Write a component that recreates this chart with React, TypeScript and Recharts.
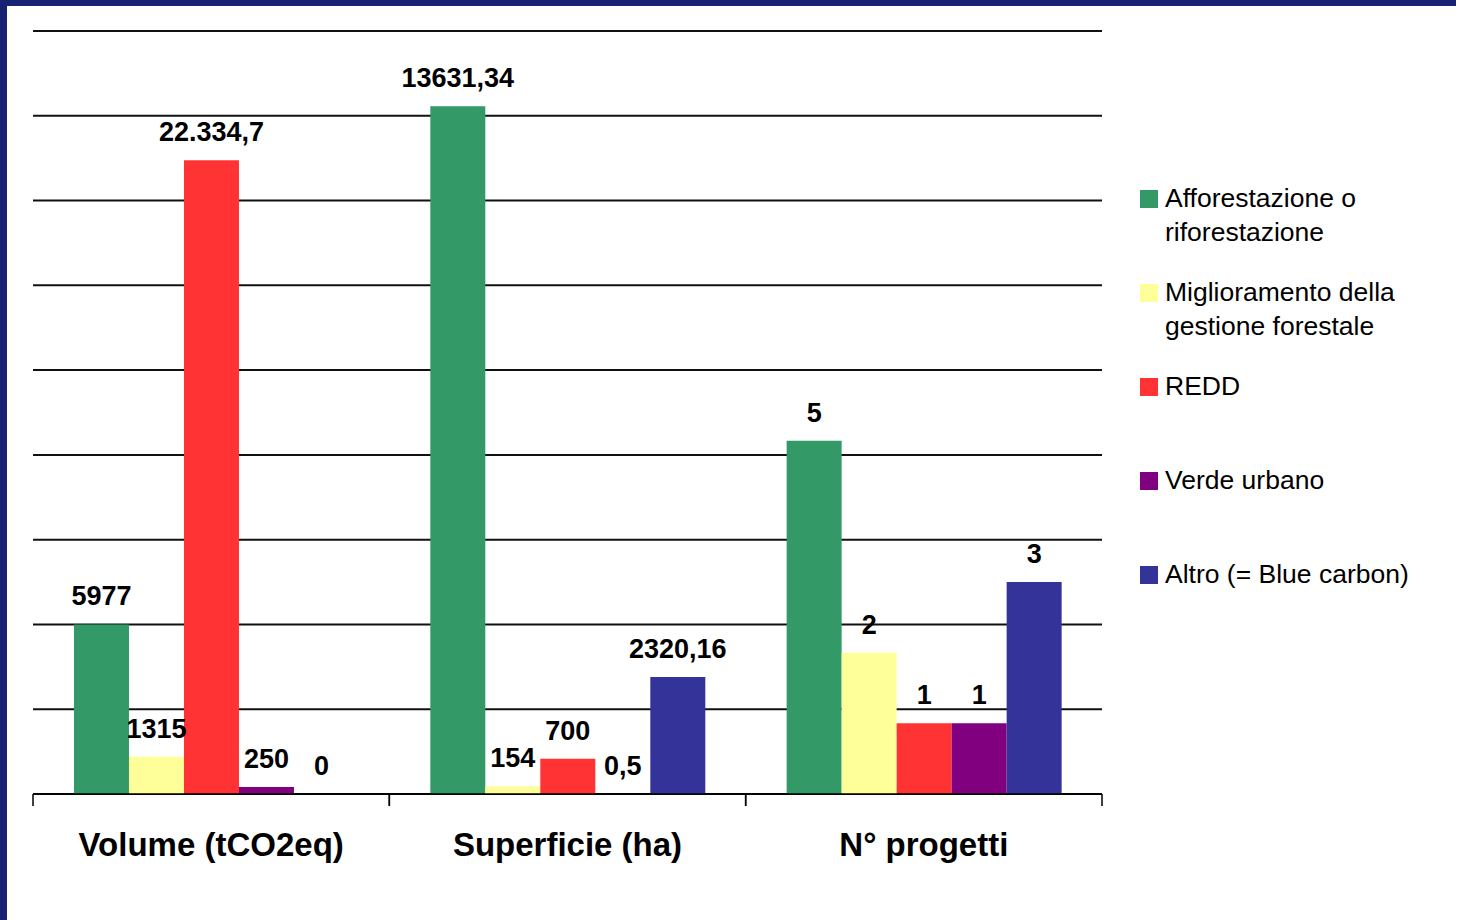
import React from "react";
import {
  BarChart,
  Bar,
  XAxis,
  YAxis,
  CartesianGrid,
  Legend,
  LabelList,
} from "recharts";

const categories = ["Volume (tCO2eq)", "Superficie (ha)", "N° progetti"];

const seriesNames = [
  "Afforestazione o riforestazione",
  "Miglioramento della gestione forestale",
  "REDD",
  "Verde urbano",
  "Altro (= Blue carbon)",
];
const seriesColors = ["#339966", "#FFFF99", "#FF3333", "#800080", "#333399"];

const afforestazione = [5977, 13631.34, 5];
const miglioramento = [1315, 154, 2];
const redd = [22334.7, 700, 1];
const verdeUrbano = [250, 0.5, 1];
const altro = [0, 2320.16, 3];

const afforestazioneLabels = ["5977", "13631,34", "5"];
const miglioramentoLabels = ["1315", "154", "2"];
const reddLabels = ["22.334,7", "700", "1"];
const verdeUrbanoLabels = ["250", "0,5", "1"];
const altroLabels = ["0", "2320,16", "3"];

const yTicks = [0, 10, 20, 30, 40, 50, 60, 70, 80, 90];

const seriesValues = [afforestazione, miglioramento, redd, verdeUrbano, altro];
const seriesLabels = [
  afforestazioneLabels,
  miglioramentoLabels,
  reddLabels,
  verdeUrbanoLabels,
  altroLabels,
];

// Each bar shows its share (%) of the category total; labels show raw values.
const data = categories.map((cat, i) => {
  const total = seriesValues.reduce((s, arr) => s + arr[i], 0);
  const row: Record<string, any> = { category: cat };
  seriesValues.forEach((arr, k) => {
    row[`s${k}`] = (arr[i] / total) * 100;
    row[`l${k}`] = seriesLabels[k][i];
  });
  return row;
});

const FONT = "'Liberation Sans', Arial, sans-serif";

const BarLabel = (props: any) => {
  const { x, y, width, value } = props;
  return (
    <text
      x={Number(x) + Number(width) / 2}
      y={Number(y) - 19}
      textAnchor="middle"
      fontFamily={FONT}
      fontWeight="bold"
      fontSize={27}
      fill="#000"
    >
      {value}
    </text>
  );
};

const CategoryTick = (props: any) => {
  const { x, y, payload } = props;
  const half = Number(payload.offset) || 0;
  return (
    <g>
      <line x1={x - half} y1={y} x2={x - half} y2={y + 12} stroke="#000" strokeWidth={1.5} />
      <line x1={x + half} y1={y} x2={x + half} y2={y + 12} stroke="#000" strokeWidth={1.5} />
      <text
        x={x}
        y={y + 62}
        textAnchor="middle"
        fontFamily={FONT}
        fontWeight="bold"
        fontSize={33}
        fill="#000"
      >
        {payload.value}
      </text>
    </g>
  );
};

const EmptyTick = () => <g />;

const LegendContent = () => (
  <div style={{ position: "relative", width: 318, height: 500, fontFamily: FONT }}>
    {seriesNames.map((name, i) => (
      <div key={name} style={{ position: "absolute", left: 0, top: i * 94, width: 318 }}>
        <div
          style={{
            position: "absolute",
            left: 0,
            top: 9,
            width: 18,
            height: 18,
            background: seriesColors[i],
          }}
        />
        <div
          style={{
            position: "absolute",
            left: 25,
            top: 0,
            width: 265,
            fontSize: 26.5,
            lineHeight: "34px",
            color: "#000",
          }}
        >
          {name}
        </div>
      </div>
    ))}
  </div>
);

const zeroPointSize = (value: any) => (Number(value) === 0 ? 0.01 : 0);

export default function App() {
  return (
    <div
      style={{
        position: "absolute",
        left: 0,
        top: 0,
        width: 1458,
        height: 920,
        background: "#fff",
        overflow: "hidden",
      }}
    >
      <BarChart
        width={1458}
        height={920}
        data={data}
        margin={{ top: 31, right: 356, bottom: 0, left: 33 }}
        barCategoryGap="11.5%"
        barGap={0}
      >
        <CartesianGrid
          xAxisId="cat"
          horizontal={true}
          vertical={false}
          stroke="#111"
          strokeWidth={2}
        />
        <YAxis
          domain={[0, 90]}
          ticks={yTicks}
          width={0}
          tick={EmptyTick}
          axisLine={false}
          tickLine={false}
          interval={0}
          allowDataOverflow
        />
        <XAxis
          xAxisId="cat"
          dataKey="category"
          type="category"
          height={126}
          axisLine={{ stroke: "#000", strokeWidth: 1.5 }}
          tickLine={false}
          tickSize={0}
          tickMargin={0}
          tick={<CategoryTick />}
          interval={0}
        />
        {seriesNames.map((name, k) => (
          <Bar
            key={name}
            xAxisId="cat"
            dataKey={`s${k}`}
            name={name}
            fill={seriesColors[k]}
            minPointSize={zeroPointSize}
            isAnimationActive={false}
          >
            <LabelList dataKey={`l${k}`} content={BarLabel} />
          </Bar>
        ))}
        <Legend
          layout="vertical"
          align="center"
          verticalAlign="middle"
          wrapperStyle={{ left: 1140, top: 181, width: 318, height: 500 }}
          content={LegendContent}
        />
      </BarChart>
      <div style={{ position: "absolute", left: 0, top: 0, width: 1456, height: 6, background: "#172372" }} />
      <div style={{ position: "absolute", left: 0, top: 0, width: 7, height: 920, background: "#172372" }} />
    </div>
  );
}
